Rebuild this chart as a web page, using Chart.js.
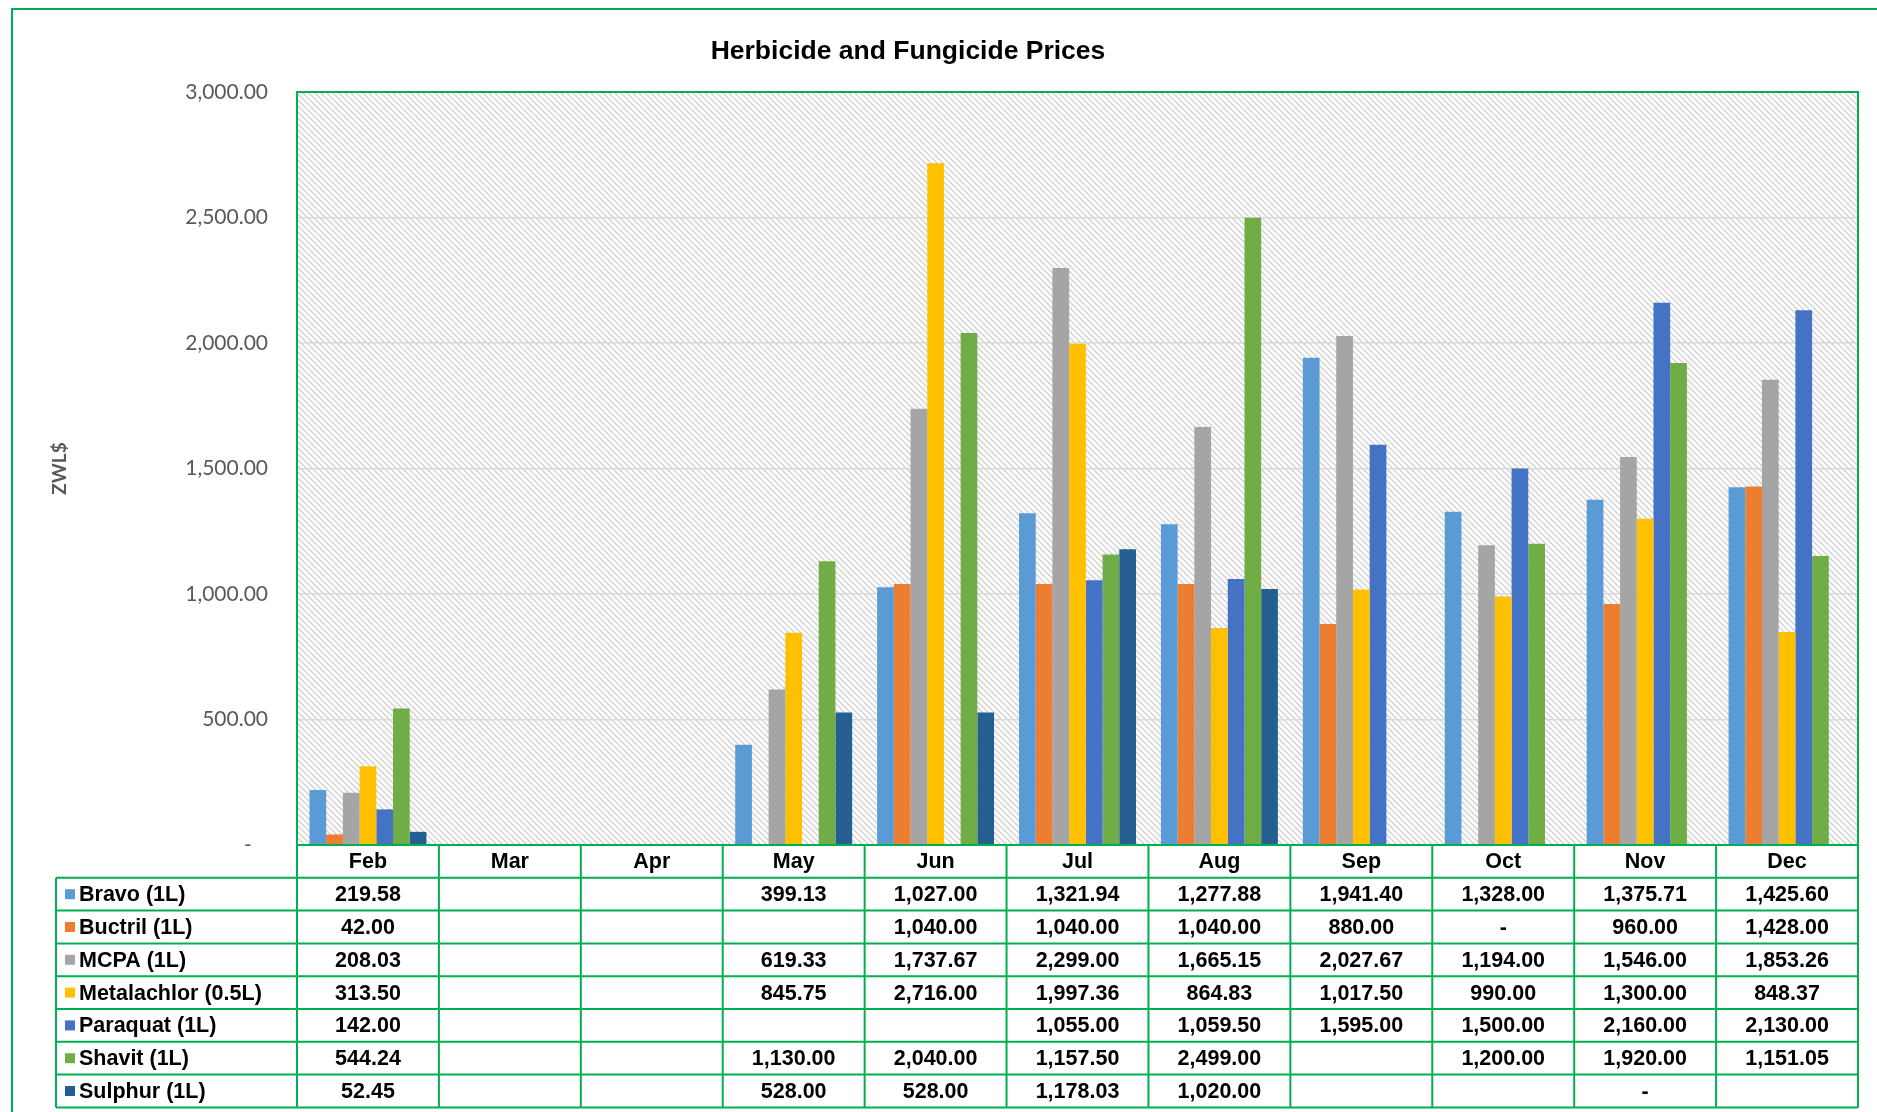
<!DOCTYPE html>
<html>
<head>
<meta charset="utf-8">
<title>Herbicide and Fungicide Prices</title>
<script src="https://cdn.jsdelivr.net/npm/chart.js@4.4.1/dist/chart.umd.min.js"></script>
<style>
  html, body { margin: 0; padding: 0; background: #ffffff; }
  canvas { display: block; }
</style>
</head>
<body>
<canvas id="pricesChart" width="1877" height="1112"></canvas>
<script>
// Datos (null = celda vacía, 0 = "-")
const months = ["Feb", "Mar", "Apr", "May", "Jun", "Jul", "Aug", "Sep", "Oct", "Nov", "Dec"];

const bravo = [219.58, null, null, 399.13, 1027.0, 1321.94, 1277.88, 1941.4, 1328.0, 1375.71, 1425.6];
const buctril = [42.0, null, null, null, 1040.0, 1040.0, 1040.0, 880.0, 0, 960.0, 1428.0];
const mcpa = [208.03, null, null, 619.33, 1737.67, 2299.0, 1665.15, 2027.67, 1194.0, 1546.0, 1853.26];
const metalachlor = [313.5, null, null, 845.75, 2716.0, 1997.36, 864.83, 1017.5, 990.0, 1300.0, 848.37];
const paraquat = [142.0, null, null, null, null, 1055.0, 1059.5, 1595.0, 1500.0, 2160.0, 2130.0];
const shavit = [544.24, null, null, 1130.0, 2040.0, 1157.5, 2499.0, null, 1200.0, 1920.0, 1151.05];
const sulphur = [52.45, null, null, 528.0, 528.0, 1178.03, 1020.0, null, null, 0, null];

const seriesNames = ["Bravo (1L)", "Buctril (1L)", "MCPA (1L)", "Metalachlor (0.5L)", "Paraquat (1L)", "Shavit (1L)", "Sulphur (1L)"];
const seriesValues = [bravo, buctril, mcpa, metalachlor, paraquat, shavit, sulphur];
const seriesColors = ["#5B9BD5", "#ED7D31", "#A5A5A5", "#FFC000", "#4472C4", "#70AD47", "#255E91"];

const yTickValues = [0, 500, 1000, 1500, 2000, 2500, 3000];

const GREEN = "#00B050";
const TABLE_FONT = "bold 21.5px 'Liberation Sans', Arial, sans-serif";

function formatValue(v) {
  if (v === null) return "";
  if (v === 0) return "-";
  return v.toLocaleString("en-US", { minimumFractionDigits: 2, maximumFractionDigits: 2 });
}

/**
 * Fondo rayado del área de trazado
 */
function makeHatch(ctx) {
  const tile = document.createElement("canvas");
  tile.width = 6;
  tile.height = 6;
  const c = tile.getContext("2d");
  c.fillStyle = "#ffffff";
  c.fillRect(0, 0, 6, 6);
  c.strokeStyle = "#d2d2d2";
  c.lineWidth = 1.4;
  c.beginPath();
  c.moveTo(-1, -1); c.lineTo(7, 7);
  c.moveTo(-1, 5); c.lineTo(1, 7);
  c.moveTo(5, -1); c.lineTo(7, 1);
  c.stroke();
  return ctx.createPattern(tile, "repeat");
}

const backgroundPlugin = {
  id: "plotBackground",
  beforeDraw(chart) {
    const { ctx, chartArea: a } = chart;
    ctx.save();
    ctx.fillStyle = "#ffffff";
    ctx.fillRect(0, 0, chart.width, chart.height);
    ctx.fillStyle = makeHatch(ctx);
    ctx.fillRect(a.left, a.top, a.right - a.left, a.bottom - a.top);
    ctx.restore();
  },
};

// Título, marco y tabla de datos bajo el eje X
const tablePlugin = {
  id: "dataTable",
  afterDraw(chart) {
    const { ctx, chartArea: a, scales } = chart;
    const x = scales.x;
    const colW = (a.right - a.left) / months.length;
    const rowH = 32.8;
    const headTop = a.bottom;
    const bodyTop = headTop + rowH;
    const bodyBottom = bodyTop + rowH * seriesNames.length;
    const legendLeft = 56;

    ctx.save();

    // marco exterior
    ctx.strokeStyle = GREEN;
    ctx.lineWidth = 2;
    ctx.beginPath();
    ctx.moveTo(12, chart.height);
    ctx.lineTo(12, 9);
    ctx.lineTo(chart.width, 9);
    ctx.stroke();

    // título
    ctx.fillStyle = "#000000";
    ctx.font = "bold 26.5px 'Liberation Sans', Arial, sans-serif";
    ctx.textAlign = "center";
    ctx.textBaseline = "middle";
    ctx.fillText("Herbicide and Fungicide Prices", 908, 52);

    // borde del área de trazado
    ctx.strokeStyle = GREEN;
    ctx.lineWidth = 2;
    ctx.strokeRect(a.left, a.top, a.right - a.left, a.bottom - a.top);

    // líneas de la tabla
    ctx.beginPath();
    for (let r = 0; r <= seriesNames.length; r++) {
      const y = bodyTop + r * rowH;
      ctx.moveTo(legendLeft, y);
      ctx.lineTo(a.right, y);
    }
    ctx.moveTo(legendLeft, bodyTop);
    ctx.lineTo(legendLeft, bodyBottom);
    for (let i = 0; i <= months.length; i++) {
      const cx = a.left + i * colW;
      ctx.moveTo(cx, headTop);
      ctx.lineTo(cx, bodyBottom);
    }
    ctx.stroke();

    // textos
    ctx.font = TABLE_FONT;
    ctx.fillStyle = "#000000";
    ctx.textAlign = "center";
    ctx.textBaseline = "middle";
    months.forEach(function (m, i) {
      ctx.fillText(m, x.getPixelForValue(i), headTop + rowH / 2 + 1);
    });

    seriesNames.forEach(function (name, r) {
      const cy = bodyTop + r * rowH + rowH / 2 + 1;
      ctx.fillStyle = seriesColors[r];
      ctx.fillRect(65, cy - 6, 10, 10);
      ctx.fillStyle = "#000000";
      ctx.textAlign = "left";
      ctx.fillText(name, 79, cy);
      ctx.textAlign = "center";
      seriesValues[r].forEach(function (v, i) {
        const txt = formatValue(v);
        if (txt) ctx.fillText(txt, x.getPixelForValue(i), cy);
      });
    });

    ctx.restore();
  },
};

new Chart(document.getElementById("pricesChart").getContext("2d"), {
  type: "bar",
  data: {
    labels: months,
    datasets: seriesNames.map(function (name, i) {
      return {
        label: name,
        data: seriesValues[i],
        backgroundColor: seriesColors[i],
        borderWidth: 0,
        categoryPercentage: 0.824,
        barPercentage: 1.0,
      };
    }),
  },
  options: {
    responsive: false,
    animation: false,
    devicePixelRatio: 1,
    layout: {
      padding: { left: 0, right: 19, top: 92, bottom: 267 },
    },
    plugins: {
      legend: { display: false },
      tooltip: { enabled: false },
      title: { display: false },
    },
    scales: {
      x: {
        display: false,
      },
      y: {
        min: 0,
        max: 3000,
        afterFit: function (scale) {
          scale.width = 297;
        },
        afterBuildTicks: function (scale) {
          scale.ticks = yTickValues.map(function (v) { return { value: v }; });
        },
        grid: {
          color: "#D9D9D9",
          lineWidth: 1.5,
          drawTicks: false,
        },
        border: { display: false },
        ticks: {
          padding: 29,
          color: "#595959",
          font: { family: "Lato, 'Open Sans', sans-serif", size: 21 },
          callback: function (v) {
            if (v === 0) return "-   ";
            return v.toLocaleString("en-US", { minimumFractionDigits: 2, maximumFractionDigits: 2 });
          },
        },
        title: {
          display: true,
          text: "ZWL$",
          color: "#595959",
          font: { family: "Lato, 'Open Sans', sans-serif", size: 19, weight: "bold" },
          padding: { top: 48, bottom: 0 },
        },
      },
    },
  },
  plugins: [backgroundPlugin, tablePlugin],
});
</script>
</body>
</html>
